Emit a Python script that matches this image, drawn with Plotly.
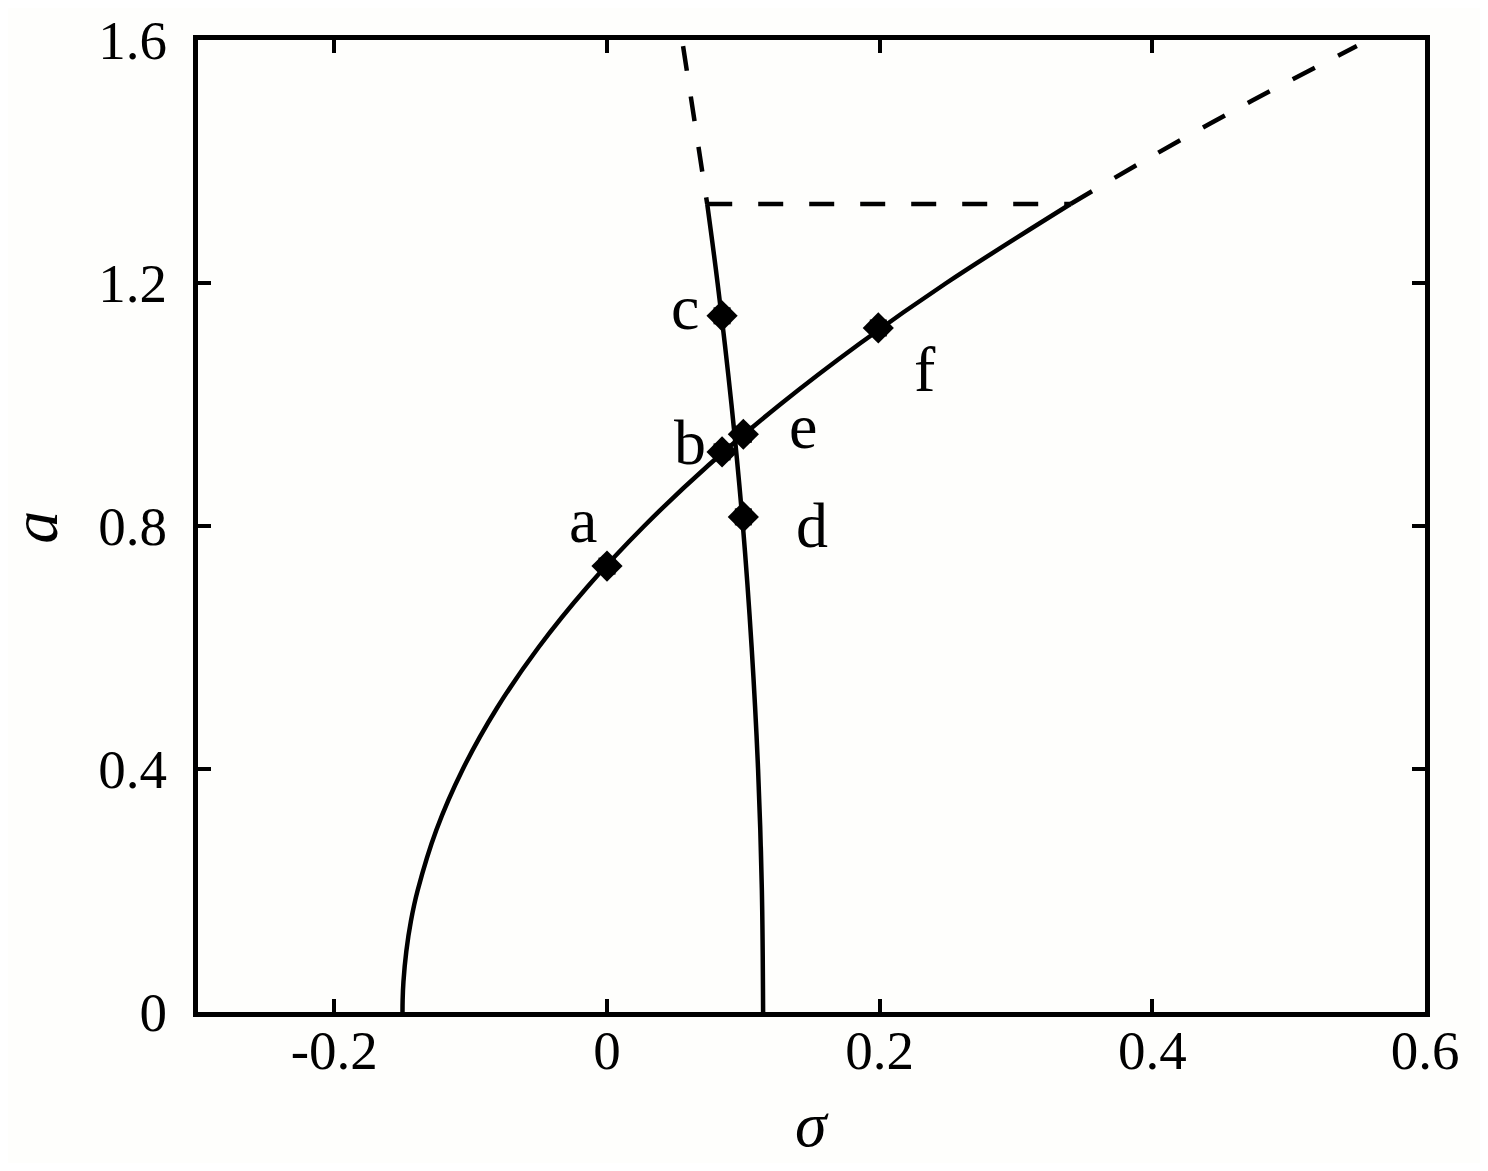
import plotly.graph_objects as go

# ---- data ----
# branch 1 (solid part)
a1 = [0.0, 0.02, 0.05, 0.1, 0.15, 0.2, 0.3, 0.4, 0.5, 0.6, 0.7, 0.8, 0.9, 1.0, 1.1, 1.2, 1.33]
s1 = [-0.150, -0.1499, -0.1493, -0.1472, -0.1438, -0.1389, -0.1251, -0.1057, -0.0808,
      -0.0503, -0.0143, 0.0273, 0.0744, 0.127, 0.1852, 0.2489, 0.340]
# branch 1 (dashed continuation)
a1d = [1.33, 1.4, 1.5, 1.59]
s1d = [0.340, 0.393, 0.473, 0.550]
# branch 2 (solid part)
a2 = [0.0, 0.2, 0.4, 0.6, 0.8, 1.0, 1.2, 1.33]
s2 = [0.1145, 0.1136, 0.1108, 0.1061, 0.0997, 0.0913, 0.0811, 0.0735]
# branch 2 (dashed continuation, listed from the top down)
a2d = [1.59, 1.45, 1.33]
s2d = [0.0558, 0.0657, 0.0735]
# horizontal dashed connector
ah = [1.33, 1.33]
sh = [0.0735, 0.340]
# marked points
pt_names = ["a", "b", "c", "d", "e", "f"]
pt_sigma = [0.0, 0.0844, 0.0844, 0.100, 0.100, 0.199]
pt_a = [0.734, 0.922, 1.146, 0.815, 0.951, 1.126]
# axis ticks
x_ticks = [-0.2, 0, 0.2, 0.4, 0.6]
x_ticktext = ["-0.2", "0", "0.2", "0.4", "0.6"]
y_ticks = [0, 0.4, 0.8, 1.2, 1.6]
y_ticktext = ["0", "0.4", "0.8", "1.2", "1.6"]

FONT = "Liberation Serif, Times New Roman, serif"
LW = 4.5
DASH = "25px,26px"

fig = go.Figure()
fig.add_trace(go.Scatter(x=s1, y=a1, mode="lines", line=dict(color="black", width=LW, shape="spline"), showlegend=False))
fig.add_trace(go.Scatter(x=s1d, y=a1d, mode="lines", line=dict(color="black", width=LW, dash=DASH, shape="spline"), showlegend=False))
fig.add_trace(go.Scatter(x=s2, y=a2, mode="lines", line=dict(color="black", width=LW, shape="spline"), showlegend=False))
fig.add_trace(go.Scatter(x=s2d, y=a2d, mode="lines", line=dict(color="black", width=LW, dash=DASH), showlegend=False))
fig.add_trace(go.Scatter(x=sh, y=ah, mode="lines", line=dict(color="black", width=LW, dash=DASH), showlegend=False))
fig.add_trace(go.Scatter(x=pt_sigma, y=pt_a, mode="markers",
                         marker=dict(symbol="diamond", size=24, color="black"), showlegend=False))
fig.add_trace(go.Scatter(x=pt_sigma, y=pt_a, mode="markers",
                         marker=dict(symbol="square", size=17, color="black"), showlegend=False))

# label offsets (pixels) relative to their points
offsets = {"a": (-24, 46), "b": (-32, 9), "c": (-37, 8), "d": (69, -9), "e": (60, 8), "f": (47, -42)}
for n, sx, ay in zip(pt_names, pt_sigma, pt_a):
    dx, dy = offsets[n]
    fig.add_annotation(x=sx, y=ay, text=n, showarrow=False, xshift=dx, yshift=dy,
                       xanchor="center", yanchor="middle",
                       font=dict(family=FONT, size=64, color="black"))

# axis titles
fig.add_annotation(xref="paper", yref="paper", x=-0.133, y=0.499, text="<i>a</i>", showarrow=False,
                   textangle=-90, xanchor="center", yanchor="middle",
                   font=dict(family=FONT, size=66, color="black"))
fig.add_annotation(xref="paper", yref="paper", x=0.5, y=-0.077, text="<i>σ</i>", showarrow=False,
                   xanchor="center", yanchor="top",
                   font=dict(family=FONT, size=64, color="black"))

axis_common = dict(showgrid=False, zeroline=False, showline=True, linewidth=5, linecolor="black",
                   mirror="ticks", ticks="inside", ticklen=13, tickwidth=4, tickcolor="black",
                   automargin=False,
                   tickfont=dict(family=FONT, size=55, color="black"))
fig.update_xaxes(range=[-0.3, 0.6], tickvals=x_ticks, ticktext=x_ticktext, ticklabelstandoff=-14, **axis_common)
fig.update_yaxes(range=[0, 1.6], tickvals=y_ticks, ticktext=y_ticktext, ticklabelstandoff=15, **axis_common)

fig.update_layout(width=1472, height=1155, margin=dict(l=190, r=55, t=32, b=151),
                  paper_bgcolor="#fefefc", plot_bgcolor="#fefefc", showlegend=False)

fig.write_html("out.html")
